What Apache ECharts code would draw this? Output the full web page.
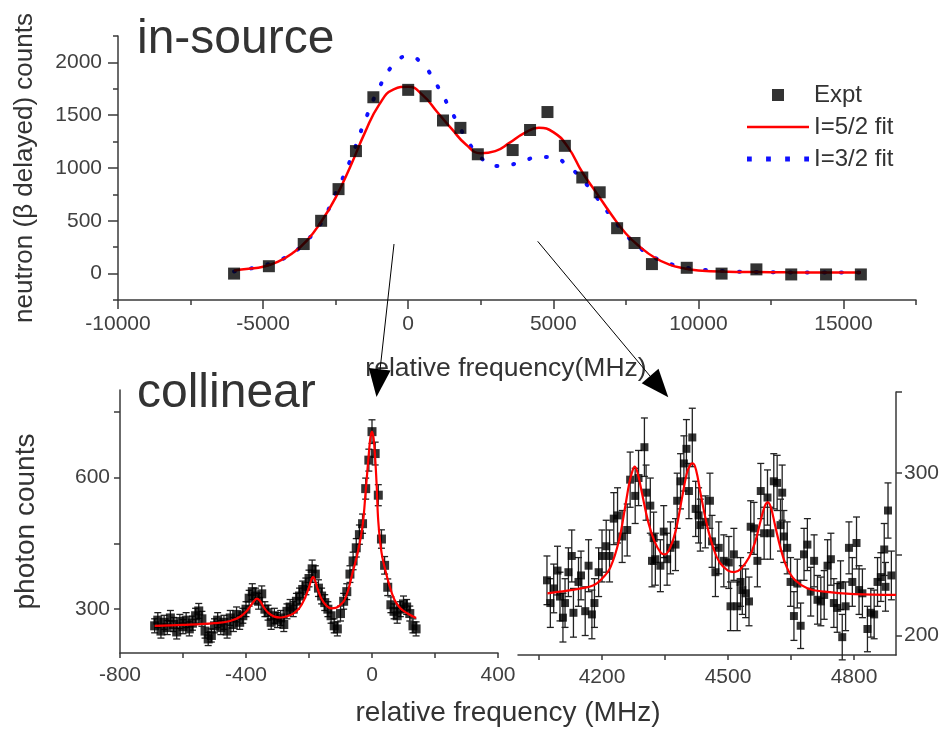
<!DOCTYPE html>
<html><head><meta charset="utf-8">
<script src="https://cdn.jsdelivr.net/npm/echarts@6/dist/echarts.min.js"></script>
<style>html,body{margin:0;padding:0;background:#fff}#c{width:944px;height:730px}</style>
</head><body><div id="c"></div>
<script>
// ---------- in-source (top panel) ----------
const isFreq = [-6000,-4800,-3600,-3000,-2400,-1800,-1200,0,600,1200,1800,2400,3600,4200,4800,5400,6000,6600,7200,7800,8400,9600,10800,12000,13200,14400,15600];
const isCounts = [0,70,280,500,800,1160,1670,1740,1680,1450,1380,1130,1170,1360,1530,1210,910,770,430,290,90,55,0,40,-8,-8,-8];
const fitFreq = [-6000,-5500,-5000,-4500,-4000,-3500,-3000,-2500,-2000,-1500,
  -1000,-500,0,500,1000,1500,2000,2500,3000,3500,
  4000,4500,5000,5500,6000,6500,7000,7500,8000,8500,
  9000,9500,10000,11000,12000,13000,14000,15600];
const fit52 = [30,45,65,110,190,310,490,720,1010,1330,
  1600,1745,1770,1690,1530,1370,1220,1140,1160,1240,
  1330,1380,1340,1200,960,760,560,380,250,150,
  85,50,30,18,15,12,10,10];
const fit32 = [20,45,75,120,190,310,480,760,1070,1440,
  1760,1980,2060,1980,1780,1530,1280,1100,1020,1030,
  1070,1105,1100,1020,890,720,540,370,240,150,
  95,60,40,22,15,12,10,10];
const isXMinor = [-10000,-7500,-5000,-2500,0,2500,5000,7500,10000,12500,15000,17500];
const isXLabels = [-10000,-5000,0,5000,10000,15000];
const isYMinor = [-250,250,750,1250,1750,2250];
const isYLabels = [0,500,1000,1500,2000];

// ---------- collinear, left panel ----------
const clFreq = [-690,-680,-670,-660,-650,-640,-630,-620,-610,-600,
  -590,-580,-570,-560,-550,-540,-530,-520,-510,-500,
  -490,-480,-470,-460,-450,-440,-430,-420,-410,-400,
  -390,-380,-370,-360,-350,-340,-330,-320,-310,-300,
  -290,-280,-270,-260,-250,-240,-230,-220,-210,-200,
  -190,-180,-170,-160,-150,-140,-130,-120,-110,-100,
  -90,-80,-70,-60,-50,-40,-30,-20,-10,0,
  10,20,30,40,50,60,70,80,90,100,
  110,120,130,140];
const clCounts = [262,275,250,270,258,280,265,248,272,260,
  275,255,268,285,296,278,250,232,240,262,
  275,258,270,250,280,265,288,270,285,300,
  325,340,330,318,335,300,292,270,285,275,
  280,265,295,305,300,318,330,345,352,370,
  392,380,348,330,315,300,285,262,255,290,
  318,340,380,410,440,470,495,575,640,705,
  655,560,460,400,350,310,295,285,300,312,
  305,290,262,255];
const clErr = [16,17,16,16,16,17,16,16,16,16,
  17,16,16,17,17,17,16,15,15,16,
  17,16,16,16,17,16,17,16,17,17,
  18,18,18,18,18,17,17,16,17,17,
  17,16,17,17,17,18,18,19,19,19,
  20,19,19,18,18,17,17,16,16,17,
  18,18,19,20,21,22,22,24,25,27,
  26,24,21,20,19,18,17,17,17,18,
  17,17,16,16];
const clFitFreq = [-690,-600,-500,-450,-420,-400,-385,-375,-365,-355,
  -345,-330,-310,-290,-270,-250,-230,-215,-200,-192,
  -187,-182,-172,-160,-145,-130,-115,-100,-88,-75,
  -61,-45,-30,-20,-10,-5,0,5,10,15,
  20,30,42,55,71,90,113,140];
const clFit = [262,264,268,273,282,294,308,318,324,318,
  306,292,283,281,284,290,303,322,350,368,
  374,368,345,323,308,302,303,310,320,345,
  385,430,490,570,655,692,705,690,645,580,
  500,430,390,355,322,302,290,280];
const clXTicks = [-800,-600,-400,-200,0,200,400];
const clXLabels = [-800,-400,0,400];
const clYTicks = [300,450,600,750];
const clYLabels = [300,600];

// ---------- collinear, right panel ----------
const rFreq = [4069,4077,4085,4094,4100,4107,4112,4120,4128,4132,
  4144,4150,4160,4168,4176,4182,4192,4200,4210,4218,
  4228,4237,4248,4260,4267,4279,4287,4301,4305,4315,
  4319,4323,4327,4339,4347,4355,4363,4375,4379,4387,
  4395,4401,4407,4415,4423,4430,4434,4446,4457,4462,
  4470,4478,4490,4502,4506,4514,4522,4530,4534,4542,
  4550,4554,4562,4570,4578,4586,4594,4601,4609,4617,
  4625,4629,4633,4641,4649,4657,4665,4673,4681,4689,
  4697,4705,4713,4721,4729,4737,4745,4752,4760,4768,
  4772,4780,4788,4796,4806,4812,4820,4832,4840,4848,
  4856,4864,4872,4875,4881,4889];
const rCounts = [234,220,229,240,224,211,220,239,249,214,
  233,237,215,243,213,220,239,249,255,249,
  272,274,261,265,296,286,297,316,288,280,
  246,260,247,243,264,247,254,256,283,295,
  306,315,289,322,278,274,268,270,283,258,
  239,254,246,245,218,250,218,233,228,226,
  221,267,266,246,289,263,285,263,295,294,
  268,288,261,254,233,212,232,206,250,256,
  227,246,222,221,225,243,247,220,217,231,
  199,218,254,233,257,228,226,204,214,213,
  233,236,253,230,277,237];
const rErr = [15,15,15,15,15,15,15,15,16,15,
  15,15,15,16,15,15,15,16,16,16,
  16,17,16,16,17,17,17,18,17,17,
  16,16,16,16,16,16,16,16,17,17,
  17,18,17,18,17,17,16,16,17,16,
  15,16,16,16,15,16,15,15,15,15,
  15,16,16,16,17,16,17,16,17,17,
  16,17,16,16,15,15,15,14,16,16,
  15,16,15,15,15,16,16,15,15,15,
  14,15,16,15,16,15,15,14,15,15,
  15,15,16,15,17,15];
const rFitFreq = [4070,4100,4150,4180,4200,4220,4240,4255,4265,4272,
  4278,4285,4295,4310,4325,4340,4350,4362,4375,4390,
  4402,4410,4416,4424,4435,4450,4465,4480,4500,4515,
  4530,4550,4565,4578,4588,4595,4602,4612,4625,4640,
  4660,4690,4730,4800,4900];
const rFit = [226,227,229,231,235,242,258,279,294,301,
  304,300,288,270,258,251,250,254,264,284,
  300,305,306,302,287,268,254,245,240,239,
  241,248,258,271,280,282,279,268,254,242,
  234,229,227,225.5,225];
const rXTicks = [4050,4200,4350,4500,4650,4800];
const rXLabels = [4200,4500,4800];
const rYTicks = [200,250,300,350];
const rYLabels = [200,300];

// ---------- build ----------
const FONT = '"Liberation Sans", Arial, Helvetica, sans-serif';
const AX = '#3a3a3a';
const LBL = '#404040';
const zip = (a, b, c) => a.map((v, i) => c ? [v, b[i], c[i]] : [v, b[i]]);
const plain = v => String(v);

function errRender(params, api) {
  const x = api.value(0), y = api.value(1), e = api.value(2);
  const lo = api.coord([x, y - e]), hi = api.coord([x, y + e]);
  const cw = 3.5;
  const st = { stroke: '#222', lineWidth: 1.3 };
  return { type: 'group', children: [
    { type: 'line', shape: { x1: lo[0], y1: lo[1], x2: hi[0], y2: hi[1] }, style: st },
    { type: 'line', shape: { x1: lo[0]-cw, y1: lo[1], x2: lo[0]+cw, y2: lo[1] }, style: st },
    { type: 'line', shape: { x1: hi[0]-cw, y1: hi[1], x2: hi[0]+cw, y2: hi[1] }, style: st }
  ]};
}

const lineAx = { show: true, onZero: false, lineStyle: { color: AX, width: 1.5 } };
const noLine = { show: false, onZero: false };
const lblStyle = { color: LBL, fontSize: 21, fontFamily: FONT, formatter: plain };
const tickStyle = { color: AX, width: 1.5 };

const option = {
  animation: false,
  backgroundColor: '#fff',
  textStyle: { fontFamily: FONT },
  grid: [
    { left: 118, top: 36, width: 798, height: 264 },
    { left: 120, top: 390, width: 378, height: 263 },
    { left: 518, top: 392, width: 378, height: 263 }
  ],
  xAxis: [
    { gridIndex: 0, type: 'value', min: -10000, max: 17500, position: 'bottom',
      axisLine: lineAx, splitLine: { show: false },
      axisTick: { customValues: isXMinor, length: 5, lineStyle: tickStyle },
      axisLabel: { show: false } },
    { gridIndex: 0, type: 'value', min: -10000, max: 17500, position: 'bottom',
      axisLine: noLine, splitLine: { show: false },
      axisTick: { customValues: isXLabels, length: 9, lineStyle: tickStyle },
      axisLabel: Object.assign({ customValues: isXLabels, margin: 14 }, lblStyle),
      name: 'relative frequency(MHz)', nameLocation: 'middle', nameGap: 55,
      nameTextStyle: { fontSize: 26.5, color: '#333', fontFamily: FONT, padding: [0, 22, 0, 0] } },
    { gridIndex: 1, type: 'value', min: -800, max: 400, position: 'bottom',
      axisLine: lineAx, splitLine: { show: false },
      axisTick: { customValues: clXTicks, length: 5, lineStyle: tickStyle },
      axisLabel: Object.assign({ customValues: clXLabels, margin: 12 }, lblStyle) },
    { gridIndex: 2, type: 'value', min: 4000, max: 4900, position: 'bottom',
      axisLine: lineAx, splitLine: { show: false },
      axisTick: { customValues: rXTicks, length: 5, lineStyle: tickStyle },
      axisLabel: Object.assign({ customValues: rXLabels, margin: 12 }, lblStyle) }
  ],
  yAxis: [
    { gridIndex: 0, type: 'value', min: -250, max: 2250, position: 'left',
      axisLine: lineAx, splitLine: { show: false },
      axisTick: { customValues: isYMinor, length: 5, lineStyle: tickStyle },
      axisLabel: { show: false } },
    { gridIndex: 0, type: 'value', min: -250, max: 2250, position: 'left',
      axisLine: noLine, splitLine: { show: false },
      axisTick: { customValues: isYLabels, length: 10, lineStyle: tickStyle },
      axisLabel: Object.assign({ customValues: isYLabels, margin: 16 }, lblStyle),
      name: 'neutron (\u03b2 delayed) counts', nameLocation: 'middle', nameGap: 80,
      nameTextStyle: { fontSize: 26, color: '#333', fontFamily: FONT } },
    { gridIndex: 1, type: 'value', min: 200, max: 800, position: 'left',
      axisLine: lineAx, splitLine: { show: false },
      axisTick: { customValues: clYTicks, length: 6, lineStyle: tickStyle },
      axisLabel: Object.assign({ customValues: clYLabels, margin: 10 }, lblStyle),
      name: 'photon counts', nameLocation: 'middle', nameGap: 80,
      nameTextStyle: { fontSize: 28, color: '#333', fontFamily: FONT } },
    { gridIndex: 2, type: 'value', min: 188, max: 350, position: 'right',
      axisLine: lineAx, splitLine: { show: false },
      axisTick: { customValues: rYTicks, length: 6, lineStyle: tickStyle },
      axisLabel: Object.assign({ customValues: rYLabels, margin: 8 }, lblStyle) }
  ],
  legend: {
    data: [
      { name: 'Expt', icon: 'path://M0,0H12V12H0Z' },
      { name: 'I=5/2 fit', icon: 'path://M0,0H62V2.6H0Z' },
      { name: 'I=3/2 fit', icon: 'path://M0,0H4.5V4.5H0Z M18,0H22.5V4.5H18Z M36,0H40.5V4.5H36Z M54,0H58.5V4.5H54Z' }
    ],
    orient: 'vertical', left: 742, top: 78,
    itemWidth: 62, itemHeight: 12, itemGap: 8,
    symbolKeepAspect: true,
    selectedMode: false,
    textStyle: { fontSize: 24, color: '#333', fontFamily: FONT }
  },
  series: [
    { name: 'I=3/2 fit', type: 'line', xAxisIndex: 0, yAxisIndex: 0,
      data: zip(fitFreq, fit32), smooth: 0.5, symbol: 'none',
      itemStyle: { color: '#1010ff' },
      lineStyle: { color: '#1010ff', width: 4, type: [1, 16], cap: 'round' }, z: 2 },
    { name: 'I=5/2 fit', type: 'line', xAxisIndex: 0, yAxisIndex: 0,
      data: zip(fitFreq, fit52), smooth: 0.5, symbol: 'none',
      itemStyle: { color: '#ff0000' },
      lineStyle: { color: '#ff0000', width: 2.5 }, z: 3 },
    { name: 'Expt', type: 'scatter', xAxisIndex: 0, yAxisIndex: 0,
      data: zip(isFreq, isCounts), symbol: 'rect', symbolSize: 12, symbolKeepAspect: true,
      itemStyle: { color: '#000' }, z: 4 },

    { name: 'cl-left-err', type: 'custom', xAxisIndex: 2, yAxisIndex: 2,
      data: zip(clFreq, clCounts, clErr), renderItem: errRender, z: 2 },
    { name: 'cl-left', type: 'scatter', xAxisIndex: 2, yAxisIndex: 2,
      data: zip(clFreq, clCounts), symbol: 'rect', symbolSize: 9,
      itemStyle: { color: '#000' }, z: 3 },
    { name: 'cl-left-fit', type: 'line', xAxisIndex: 2, yAxisIndex: 2,
      data: zip(clFitFreq, clFit), smooth: 0.4, symbol: 'none',
      lineStyle: { color: '#ff0000', width: 2.2 }, itemStyle: { color: '#ff0000' }, z: 4 },

    { name: 'cl-right-err', type: 'custom', xAxisIndex: 3, yAxisIndex: 3,
      data: zip(rFreq, rCounts, rErr), renderItem: errRender, z: 2 },
    { name: 'cl-right', type: 'scatter', xAxisIndex: 3, yAxisIndex: 3,
      data: zip(rFreq, rCounts), symbol: 'rect', symbolSize: 8,
      itemStyle: { color: '#000' }, z: 3 },
    { name: 'cl-right-fit', type: 'line', xAxisIndex: 3, yAxisIndex: 3,
      data: zip(rFitFreq, rFit), smooth: 0.4, symbol: 'none',
      lineStyle: { color: '#ff0000', width: 2.2 }, itemStyle: { color: '#ff0000' }, z: 4 }
  ],
  graphic: [
    { type: 'text', left: 137, top: 16, z: 10,
      style: { text: 'in-source', fontSize: 48, fill: '#333', fontFamily: FONT } },
    { type: 'text', left: 137, top: 370, z: 10,
      style: { text: 'collinear', fontSize: 48, fill: '#333', fontFamily: FONT } },
    { type: 'text', x: 508, y: 713, z: 10,
      style: { text: 'relative frequency (MHz)', fontSize: 28, fill: '#333', fontFamily: FONT,
               align: 'center', verticalAlign: 'middle' } },
    { type: 'line', z: 10, shape: { x1: 394, y1: 244, x2: 380, y2: 370 },
      style: { stroke: '#000', lineWidth: 1 } },
    { type: 'polygon', z: 10, shape: { points: [[390.6, 370.4], [368.8, 368.0], [376.5, 397]] },
      style: { fill: '#000' } },
    { type: 'line', z: 10, shape: { x1: 537.7, y1: 241.3, x2: 650, y2: 376 },
      style: { stroke: '#000', lineWidth: 1 } },
    { type: 'polygon', z: 10, shape: { points: [[658.5, 368.8], [641.7, 383.2], [668.3, 397.3]] },
      style: { fill: '#000' } }
  ]
};
const chart = echarts.init(document.getElementById('c'));
chart.setOption(option);
</script>
</body></html>
